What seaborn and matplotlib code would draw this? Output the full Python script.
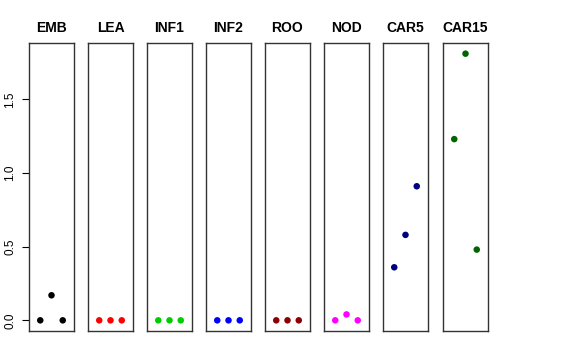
"""Small-multiple dot panels, one per tissue."""

import matplotlib
matplotlib.use("Agg")
import matplotlib.pyplot as plt
import pandas as pd
import seaborn as sns

sns.set_style("white")
plt.rcParams["font.family"] = ["Liberation Sans", "DejaVu Sans"]
plt.rcParams["text.color"] = "black"
plt.rcParams["ytick.color"] = "black"
plt.rcParams["ytick.labelcolor"] = "black"

tissues = ["EMB", "LEA", "INF1", "INF2", "ROO", "NOD", "CAR5", "CAR15"]
colors = ["#000000", "#FF0000", "#00CD00", "#0000FF",
          "#8B0000", "#FF00FF", "#000080", "#006400"]
replicate = [1, 2, 3]
values = {
    "EMB": [0.0, 0.17, 0.0],
    "LEA": [0.0, 0.0, 0.0],
    "INF1": [0.0, 0.0, 0.0],
    "INF2": [0.0, 0.0, 0.0],
    "ROO": [0.0, 0.0, 0.0],
    "NOD": [0.0, 0.04, 0.0],
    "CAR5": [0.36, 0.58, 0.91],
    "CAR15": [1.23, 1.81, 0.48],
}
yticks = [0.0, 0.5, 1.0, 1.5]

fig = plt.figure(figsize=(5.76, 3.6), dpi=100)
W, H = 576, 360
lefts = [29, 88, 147, 206, 265, 324, 383, 443]
ymax = max(max(v) for v in values.values())
pad = ymax * 0.04

for i, (name, col) in enumerate(zip(tissues, colors)):
    ax = fig.add_axes([lefts[i] / W, 29 / H, 45 / W, 288 / H])
    df = pd.DataFrame({"x": replicate, "y": values[name]})
    sns.scatterplot(data=df, x="x", y="y", ax=ax, color=col, s=22,
                    edgecolor="none", legend=False)
    ax.set_xlim(0, 4)
    ax.set_ylim(-pad, ymax + pad)
    ax.set_xticks([])
    ax.set_xlabel("")
    ax.set_ylabel("")
    for sp in ax.spines.values():
        sp.set_color("#333333")
        sp.set_linewidth(1.0)
    ax.set_title(name, fontsize=10, fontweight="bold", pad=8, color="black")
    if i == 0:
        ax.set_yticks(yticks)
        ax.set_yticklabels([f"{t:.1f}" for t in yticks], rotation=90,
                           va="center", fontsize=8.5)
        ax.tick_params(axis="y", length=5, width=0.8, pad=4, left=True,
                       color="black")
    else:
        ax.set_yticks([])

fig.savefig("out.png", dpi=100)
